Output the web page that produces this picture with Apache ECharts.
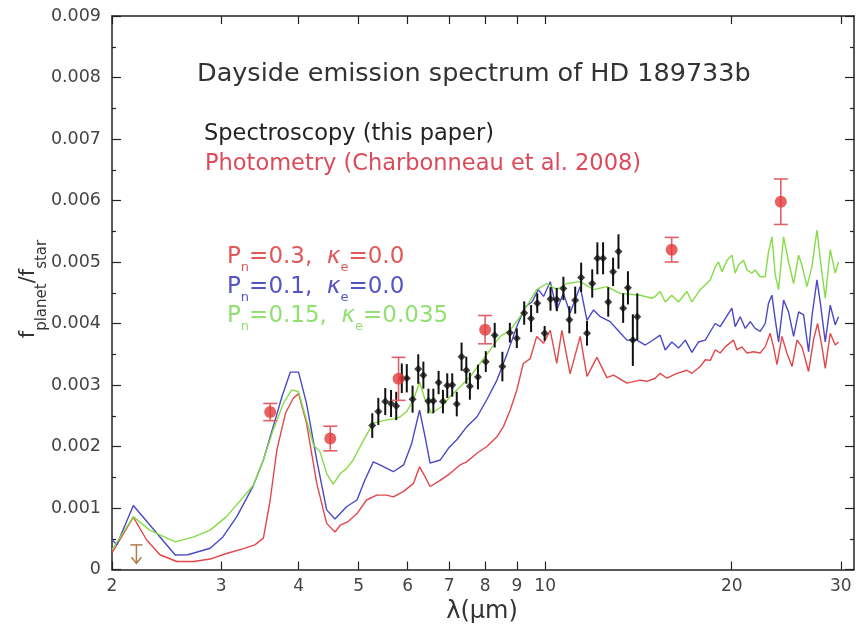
<!DOCTYPE html>
<html>
<head>
<meta charset="utf-8">
<script src="https://cdn.jsdelivr.net/npm/echarts@6/dist/echarts.min.js"></script>
<style>
  html, body { margin: 0; padding: 0; background: #ffffff; }
  #chart { width: 863px; height: 628px; }
</style>
</head>
<body>
<div id="chart"></div>
<script>
// Model spectra: wavelength (micron) and planet/star flux ratio
const redLambda = [2.00,2.165,2.275,2.39,2.544,2.71,2.88,3.06,3.26,3.40,3.51,3.60,3.69,3.81,3.92,4.00,4.12,4.28,4.44,4.58,4.67,4.81,4.97,5.15,5.35,5.55,5.69,5.91,6.13,6.27,6.40,6.52,6.77,7.02,7.29,7.47,7.76,8.05,8.36,8.56,8.78,9.00,9.22,9.46,9.69,9.94,10.19,10.44,10.64,10.97,11.39,11.68,12.12,12.58,12.89,13.55,14.23,14.59,15.05,15.33,15.72,16.31,16.93,17.25,17.79,18.13,18.47,18.81,19.16,19.52,20.13,20.39,20.77,21.16,21.69,22.23,22.65,23.07,23.36,23.66,24.10,24.55,25.02,25.49,25.96,26.61,27.10,27.51,27.97,28.31,28.84,29.38,29.74];
const redFlux = [0.00027,0.00085,0.00048,0.00024,0.00013,0.00013,0.00017,0.00026,0.00034,0.00040,0.00051,0.00113,0.00194,0.00254,0.00278,0.00286,0.00238,0.00140,0.00075,0.00061,0.00072,0.00078,0.00091,0.00113,0.00121,0.00121,0.00118,0.00127,0.00140,0.00167,0.00151,0.00135,0.00145,0.00156,0.00170,0.00175,0.00189,0.00200,0.00216,0.00232,0.00259,0.00292,0.00335,0.00343,0.00379,0.00368,0.00389,0.00335,0.00389,0.00318,0.00379,0.00314,0.00345,0.00312,0.00316,0.00303,0.00308,0.00306,0.00311,0.00319,0.00311,0.00319,0.00324,0.00319,0.00330,0.00341,0.00340,0.00357,0.00352,0.00362,0.00373,0.00357,0.00362,0.00352,0.00354,0.00352,0.00362,0.00384,0.00362,0.00333,0.00379,0.00352,0.00330,0.00373,0.00362,0.00322,0.00373,0.00400,0.00362,0.00327,0.00384,0.00365,0.00370];

const blueLambda = [2.00,2.035,2.165,2.53,2.65,2.88,3.02,3.18,3.38,3.51,3.64,3.76,3.88,4.00,4.12,4.28,4.44,4.58,4.67,4.78,4.97,5.12,5.28,5.41,5.69,5.91,6.09,6.27,6.40,6.52,6.77,6.98,7.20,7.47,7.76,8.05,8.36,8.67,9.00,9.28,9.52,9.75,9.94,10.19,10.44,10.70,10.97,11.39,11.68,11.97,12.27,12.73,13.21,13.55,14.06,14.50,14.87,15.33,15.62,16.01,16.41,16.83,17.25,17.68,18.13,18.47,18.81,19.16,19.52,20.01,20.26,20.64,21.03,21.42,21.82,22.23,22.65,22.93,23.22,23.51,23.80,24.25,24.70,25.17,25.64,26.12,26.61,26.94,27.45,27.80,28.31,28.84,29.38,29.74];
const blueFlux = [0.00049,0.00040,0.00104,0.000236,0.00024,0.000345,0.00053,0.00086,0.00136,0.00178,0.00232,0.00281,0.00321,0.00321,0.00270,0.00178,0.00097,0.00082,0.00091,0.00102,0.00113,0.00146,0.00175,0.00170,0.00159,0.00170,0.00205,0.00259,0.00216,0.00173,0.00178,0.00197,0.00211,0.00232,0.00248,0.00276,0.00308,0.00349,0.00395,0.00427,0.00435,0.00455,0.00444,0.00468,0.00422,0.00449,0.00417,0.00460,0.00405,0.00422,0.00411,0.00403,0.00385,0.00373,0.00373,0.00365,0.00372,0.00381,0.00357,0.00370,0.00360,0.00373,0.00353,0.00370,0.00373,0.00387,0.00400,0.00395,0.00408,0.00425,0.00395,0.00411,0.00392,0.00403,0.00392,0.00387,0.00400,0.00433,0.00446,0.00406,0.00370,0.00438,0.00419,0.00379,0.00419,0.00414,0.00354,0.00411,0.00471,0.00433,0.00370,0.00430,0.00398,0.00411];

const greenLambda = [2.00,2.165,2.30,2.53,2.71,2.88,3.06,3.26,3.38,3.51,3.64,3.78,3.90,4.00,4.12,4.23,4.33,4.44,4.55,4.67,4.78,4.90,5.09,5.28,5.48,5.69,5.83,5.98,6.13,6.27,6.40,6.56,6.81,7.02,7.29,7.57,7.85,8.15,8.46,8.78,9.11,9.40,9.69,10.06,10.44,10.84,11.39,11.97,12.58,13.21,14.23,14.87,15.05,15.33,15.62,16.01,16.41,16.93,17.25,17.79,18.13,18.47,18.81,19.04,19.29,19.65,20.01,20.26,20.51,20.90,21.16,21.56,21.82,22.23,22.65,22.93,23.22,23.51,23.80,24.25,24.70,25.17,25.64,25.96,26.45,26.94,27.45,27.80,28.31,28.84,29.38,29.74];
const greenFlux = [0.00032,0.00086,0.00064,0.00045,0.00053,0.00064,0.00086,0.00118,0.00137,0.00178,0.00227,0.00270,0.00292,0.00289,0.00243,0.00202,0.00192,0.00156,0.00139,0.00156,0.00164,0.00178,0.00210,0.00238,0.00242,0.00245,0.00248,0.00257,0.00276,0.00305,0.00276,0.00254,0.00265,0.00281,0.00297,0.00314,0.00335,0.00357,0.00379,0.00389,0.00411,0.00433,0.00455,0.00465,0.00455,0.00465,0.00468,0.00455,0.00460,0.00449,0.00446,0.00441,0.00444,0.00452,0.00435,0.00446,0.00435,0.00452,0.00435,0.00455,0.00463,0.00471,0.00492,0.00500,0.00484,0.00503,0.00511,0.00482,0.00495,0.00503,0.00487,0.00482,0.00487,0.00476,0.00476,0.00517,0.00541,0.00479,0.00455,0.00541,0.00500,0.00465,0.00511,0.00495,0.00460,0.00492,0.00552,0.00503,0.00441,0.00520,0.00482,0.00500];

// IRS spectroscopy (this paper)
const specLambda = [5.26,5.38,5.52,5.64,5.75,5.87,5.98,6.11,6.24,6.36,6.48,6.60,6.73,6.84,6.95,7.08,7.20,7.33,7.46,7.56,7.79,8.02,8.29,8.53,8.77,9.00,9.25,9.49,9.71,9.98,10.20,10.44,10.70,10.94,11.18,11.43,11.68,11.91,12.14,12.40,12.64,12.87,13.13,13.36,13.60,13.85,14.08];
const specFlux = [0.00234,0.00257,0.00273,0.00270,0.00266,0.00311,0.00311,0.00277,0.00326,0.00316,0.00274,0.00274,0.00304,0.00273,0.00299,0.00300,0.00269,0.00346,0.00324,0.00298,0.00313,0.00338,0.00381,0.00330,0.00385,0.00376,0.00417,0.00408,0.00433,0.00384,0.00440,0.00439,0.00457,0.00406,0.00438,0.00475,0.00384,0.00465,0.00506,0.00506,0.00435,0.00484,0.00517,0.00425,0.00458,0.00373,0.00411];
const specErr = [0.00020,0.00022,0.00022,0.00022,0.00023,0.00024,0.00023,0.00022,0.00024,0.00022,0.00020,0.00020,0.00019,0.00019,0.00020,0.00019,0.00020,0.00023,0.00022,0.00022,0.00020,0.00017,0.00020,0.00024,0.00016,0.00016,0.00019,0.00022,0.00016,0.00012,0.00019,0.00019,0.00019,0.00022,0.00022,0.00024,0.00020,0.00023,0.00026,0.00026,0.00024,0.00023,0.00028,0.00024,0.00027,0.00042,0.00038];

// Photometry (Charbonneau et al. 2008)
const photLambda = [3.6, 4.5, 5.8, 8.0, 16.0, 24.0];
const photFlux = [0.00256, 0.00213, 0.00310, 0.00390, 0.00520, 0.00598];
const photErr = [0.00014, 0.00020, 0.00035, 0.00023, 0.00020, 0.00037];

// 2.2 micron upper limit: [wavelength, limit, arrow tip]
const limitLambda = [2.19];
const limitFlux = [0.00040];
const limitTip = [0.00010];

// Axis ticks
const xTicks = [2, 3, 4, 5, 6, 7, 8, 9, 10, 20, 30];
const yMin = 0, yMax = 0.009, yStep = 0.001;
const xMin = 2, xMax = 31.5;

const FONT = "'DejaVu Sans', sans-serif";
const RED = '#e2474b', BLUE = '#4a48c4', GREEN = '#86dc48';

const zip = (xs, ...cols) => xs.map((x, i) => [x, ...cols.map(c => c[i])]);

const chart = echarts.init(document.getElementById('chart'), null, { renderer: 'canvas' });

function lineSeries(name, xs, ys, color) {
  return {
    name, type: 'line', data: zip(xs, ys), showSymbol: false, symbol: 'none',
    lineStyle: { color, width: 1.4 }, z: 2, silent: true, animation: false
  };
}

function errorBars(name, data, color, width, capHalf, z) {
  return {
    name, type: 'custom', data, z, silent: true, animation: false,
    encode: { x: 0, y: 1 },
    renderItem(params, api) {
      const x = api.value(0), y = api.value(1), e = api.value(2);
      const top = api.coord([x, y + e]);
      const bot = api.coord([x, y - e]);
      const style = { stroke: color, lineWidth: width };
      const children = [{ type: 'line', shape: { x1: top[0], y1: top[1], x2: bot[0], y2: bot[1] }, style }];
      if (capHalf > 0) {
        children.push({ type: 'line', shape: { x1: top[0] - capHalf, y1: top[1], x2: top[0] + capHalf, y2: top[1] }, style });
        children.push({ type: 'line', shape: { x1: bot[0] - capHalf, y1: bot[1], x2: bot[0] + capHalf, y2: bot[1] }, style });
      }
      return { type: 'group', children };
    }
  };
}

const axisLine = { show: true, onZero: false, lineStyle: { color: '#222', width: 1.5 } };
const tickStyle = { color: '#222', width: 1.2 };

function xAxisDef(position, showLabels) {
  return {
    type: 'log', logBase: 10, min: xMin, max: xMax, position,
    axisLine,
    axisTick: { show: true, inside: true, length: 8, customValues: xTicks, lineStyle: tickStyle },
    axisLabel: {
      show: showLabels, customValues: xTicks, color: '#444', fontSize: 17,
      fontFamily: FONT, margin: 9, formatter: v => String(Math.round(v))
    },
    splitLine: { show: false }, minorTick: { show: false }
  };
}

function yAxisDef(position, showLabels) {
  return {
    type: 'value', min: yMin, max: yMax, interval: yStep, position,
    axisLine,
    axisTick: { show: true, inside: true, length: 9, lineStyle: tickStyle },
    minorTick: { show: true, splitNumber: 2, length: 4, lineStyle: tickStyle },
    axisLabel: {
      show: showLabels, color: '#444', fontSize: 17.5, fontFamily: FONT, margin: 11,
      formatter: v => (Math.abs(v) < 1e-12 ? '0' : v.toFixed(3))
    },
    splitLine: { show: false }
  };
}

const subStyle = (color, size) => ({ fontSize: size, fontFamily: FONT, fill: color, lineHeight: size, verticalAlign: 'bottom' });
const mainStyle = (color, size, lh) => ({ fontSize: size, fontFamily: FONT, fill: color, lineHeight: lh });
const kappaStyle = (color, size, lh) => ({ fontSize: size, fontFamily: FONT, fontStyle: 'italic', fill: color, lineHeight: lh });

function modelLabel(y, color, pn, ke) {
  return {
    type: 'text', x: 227, y, silent: true,
    style: {
      text: `{a|P}{s|n}{a|=${pn},  }{k|κ}{s|e}{a|=${ke}}`,
      align: 'left', verticalAlign: 'middle',
      rich: { a: mainStyle(color, 23, 34), k: kappaStyle(color, 23, 34), s: subStyle(color, 13) }
    }
  };
}

const option = {
  animation: false,
  backgroundColor: '#ffffff',
  grid: { left: 112, right: 9, top: 16, bottom: 58.5, containLabel: false },
  xAxis: [xAxisDef('bottom', true), xAxisDef('top', false)],
  yAxis: [yAxisDef('left', true), yAxisDef('right', false)],
  series: [
    lineSeries('Pn=0.3, ke=0.0', redLambda, redFlux, RED),
    lineSeries('Pn=0.1, ke=0.0', blueLambda, blueFlux, BLUE),
    lineSeries('Pn=0.15, ke=0.035', greenLambda, greenFlux, GREEN),
    errorBars('spectroscopy error', zip(specLambda, specFlux, specErr), '#111', 2, 0, 4),
    {
      name: 'Spectroscopy', type: 'scatter', data: zip(specLambda, specFlux),
      symbol: 'diamond', symbolSize: 8, itemStyle: { color: '#111' }, z: 5, silent: true
    },
    errorBars('photometry error', zip(photLambda, photFlux, photErr), '#e06268', 1.6, 7, 6),
    {
      name: 'Photometry', type: 'scatter', data: zip(photLambda, photFlux),
      symbol: 'circle', symbolSize: 12, itemStyle: { color: '#e23b3b' }, z: 7, silent: true
    },
    {
      name: 'K-band upper limit', type: 'custom', data: zip(limitLambda, limitFlux, limitTip),
      encode: { x: 0, y: 1 }, z: 6, silent: true,
      renderItem(params, api) {
        const x = api.value(0);
        const top = api.coord([x, api.value(1)]);
        const tip = api.coord([x, api.value(2)]);
        const style = { stroke: '#b07a4c', lineWidth: 1.5, fill: 'none' };
        return {
          type: 'group', children: [
            { type: 'line', shape: { x1: top[0] - 6, y1: top[1], x2: top[0] + 6, y2: top[1] }, style },
            { type: 'line', shape: { x1: top[0], y1: top[1], x2: tip[0], y2: tip[1] }, style },
            { type: 'polyline', shape: { points: [[tip[0] - 5, tip[1] - 6], [tip[0], tip[1]], [tip[0] + 5, tip[1] - 6]] }, style }
          ]
        };
      }
    }
  ],
  graphic: [
    {
      type: 'text', x: 197, y: 74, silent: true,
      style: { text: 'Dayside emission spectrum of HD 189733b', fontSize: 25.5, fontFamily: FONT, fill: '#333', align: 'left', verticalAlign: 'middle' }
    },
    {
      type: 'text', x: 204, y: 134, silent: true,
      style: { text: 'Spectroscopy (this paper)', fontSize: 22.5, fontFamily: FONT, fill: '#222', align: 'left', verticalAlign: 'middle' }
    },
    {
      type: 'text', x: 205, y: 164, silent: true,
      style: { text: 'Photometry (Charbonneau et al. 2008)', fontSize: 22.5, fontFamily: FONT, fill: '#dd4a5a', align: 'left', verticalAlign: 'middle' }
    },
    modelLabel(257.5, '#e05858', '0.3', '0.0'),
    modelLabel(287.5, '#5454c4', '0.1', '0.0'),
    modelLabel(315.8, '#92e070', '0.15', '0.035'),
    {
      type: 'text', x: 482, y: 612, silent: true,
      style: { text: 'λ(μm)', fontSize: 24, fontFamily: FONT, fill: '#333', align: 'center', verticalAlign: 'middle' }
    },
    {
      type: 'text', x: 29, y: 289, rotation: Math.PI / 2, silent: true,
      style: {
        text: '{m|f}{s|planet}{m|/f}{s|star}', align: 'center', verticalAlign: 'middle',
        rich: { m: mainStyle('#333', 21, 42), s: subStyle('#333', 15) }
      }
    }
  ]
};

chart.setOption(option);
</script>
</body>
</html>
